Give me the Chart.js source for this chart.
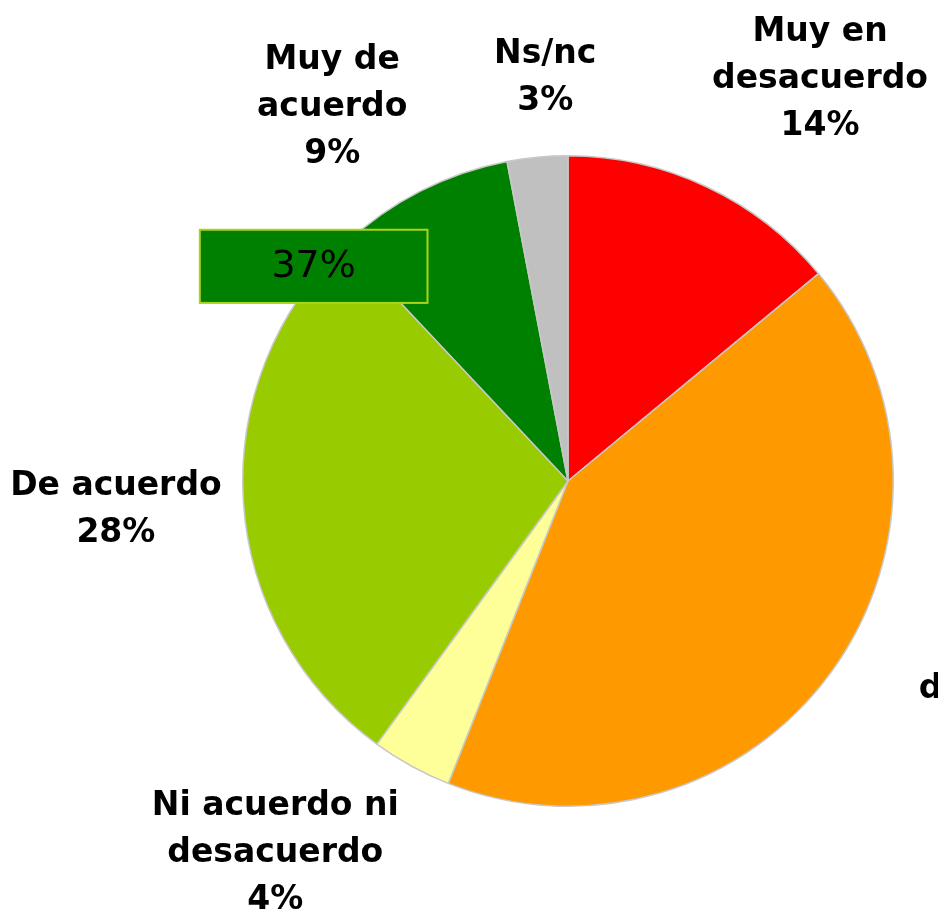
<!DOCTYPE html>
<html>
<head>
<meta charset="utf-8">
<script src="https://cdn.jsdelivr.net/npm/chart.js@4/dist/chart.umd.min.js"></script>
<style>
  html, body { margin: 0; padding: 0; background: #fff; overflow: hidden; }
  canvas { display: block; }
</style>
</head>
<body>
<canvas id="pie" width="938" height="915"></canvas>
<script>
// data
const categories = [
  ['Muy en', 'desacuerdo'],
  ['En', 'desacuerdo'],
  ['Ni acuerdo ni', 'desacuerdo'],
  ['De acuerdo'],
  ['Muy de', 'acuerdo'],
  ['Ns/nc']
];
const values = [14, 42, 4, 28, 9, 3];
const colors = ['#ff0000', '#ff9900', '#ffff99', '#99cc00', '#008000', '#c0c0c0'];
// indexes of the slices summed in the callout box (De acuerdo + Muy de acuerdo)
const agreeIdx = [3, 4];

// label centres, in units of the pie radius from its centre
const labelOffsets = [
  [0.775, -1.235],
  [1.41, 0.64],
  [-0.9, 1.145],
  [-1.39, 0.09],
  [-0.725, -1.15],
  [-0.07, -1.24]
];
const LINE_H = 47;

const labelPlugin = {
  id: 'outsideLabels',
  afterDatasetsDraw(chart) {
    const ctx = chart.ctx;
    const arcs = chart.getDatasetMeta(0).data;
    const cx = arcs[0].x, cy = arcs[0].y, r = arcs[0].outerRadius;

    ctx.save();
    ctx.fillStyle = '#000';
    ctx.textAlign = 'center';
    ctx.textBaseline = 'middle';
    ctx.font = 'bold 33px "DejaVu Sans"';
    categories.forEach((lines, i) => {
      const all = [...lines, values[i] + '%'];
      const x = cx + labelOffsets[i][0] * r;
      const y0 = cy + labelOffsets[i][1] * r - (all.length - 1) * LINE_H / 2;
      all.forEach((t, k) => ctx.fillText(t, x, y0 + k * LINE_H));
    });

    // callout box with the agreement total
    const total = agreeIdx.reduce((s, i) => s + values[i], 0);
    const bw = 0.7 * r, bh = 0.225 * r;
    const bx = cx - 0.782 * r - bw / 2, by = cy - 0.66 * r - bh / 2;
    ctx.fillStyle = '#008000';
    ctx.fillRect(bx, by, bw, bh);
    ctx.strokeStyle = '#a8d41c';
    ctx.lineWidth = 2;
    ctx.strokeRect(bx, by, bw, bh);
    ctx.fillStyle = '#000';
    ctx.font = '38px "DejaVu Sans"';
    ctx.fillText(total + '%', bx + bw / 2, by + bh / 2 + 1);
    ctx.restore();
  }
};

new Chart(document.getElementById('pie'), {
  type: 'pie',
  data: {
    labels: categories,
    datasets: [{
      data: values,
      backgroundColor: colors,
      borderColor: '#c8c8c8',
      borderWidth: 1.5
    }]
  },
  options: {
    responsive: false,
    animation: false,
    layout: { padding: { left: 242, right: 44, top: 155, bottom: 108 } },
    plugins: {
      legend: { display: false },
      tooltip: { enabled: false }
    }
  },
  plugins: [labelPlugin]
});
</script>
</body>
</html>
